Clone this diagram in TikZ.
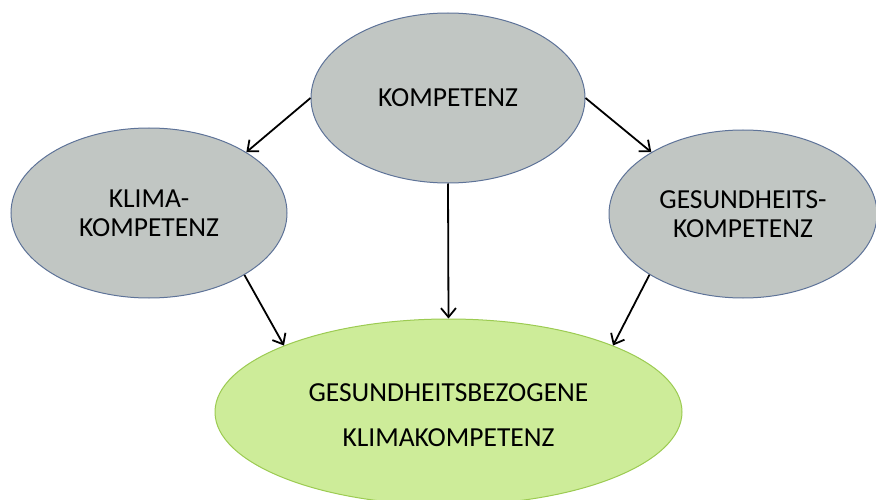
\documentclass[tikz,border=0pt]{standalone}
\usepackage{fontspec}
\setmainfont{Carlito}
\usetikzlibrary{shapes.geometric,arrows.meta}
\definecolor{grayfill}{HTML}{C1C6C3}
\definecolor{grayline}{HTML}{5E7398}
\definecolor{greenfill}{HTML}{CDEC99}
\definecolor{greenline}{HTML}{9CCB52}
\tikzset{
  grayell/.style={ellipse, draw=grayline, fill=grayfill, line width=1pt, inner sep=0pt, align=center,
    font=\fontsize{27.5}{29}\selectfont},
  greenell/.style={ellipse, draw=greenline, fill=greenfill, line width=1pt, inner sep=0pt, align=center,
    font=\fontsize{27.5}{44.6}\selectfont},
  conn/.style={draw=black, line width=1.8pt, -{Straight Barb[length=9pt,width=15pt,line width=1.8pt]}}
}
\begin{document}
\begin{tikzpicture}[x=1pt,y=-1pt]
\useasboundingbox (0,0) rectangle (876,500);
\node[grayell, minimum width=274pt, minimum height=170pt] (top) at (448,98) {KOMPETENZ};
\node[grayell, minimum width=276pt, minimum height=170pt] (left) at (149,213) {KLIMA-\\KOMPETENZ};
\node[grayell, minimum width=268pt, minimum height=168pt] (right) at (743,214) {GESUNDHEITS-\\KOMPETENZ};
\node[greenell, minimum width=467pt, minimum height=186pt] (bottom) at (448.5,412) {};
\node[font=\fontsize{27.5}{44.6}\selectfont, align=center, inner sep=0pt] (btext) at (448.5,415) {GESUNDHEITSBEZOGENE\\KLIMAKOMPETENZ};
\draw[conn] (top.west) -- (left.32);
\draw[conn] (top.east) -- (right.146);
\draw[conn] (top.south) -- (bottom.north);
\draw[conn] (left.-33) -- (bottom.158);
\draw[conn] (right.213) -- (bottom.22);
\end{tikzpicture}
\end{document}
